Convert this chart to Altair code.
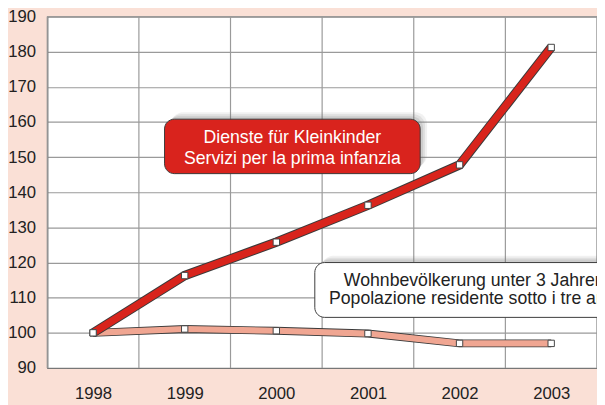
import altair as alt
import pandas as pd

# ---- data ----
years = [1998, 1999, 2000, 2001, 2002, 2003]
services = [100, 116.3, 125.8, 136.3, 147.8, 181.2]      # Dienste für Kleinkinder
population = [100, 101.1, 100.6, 99.8, 97.0, 97.0]      # Wohnbevölkerung unter 3 Jahren
y_ticks = [90, 100, 110, 120, 130, 140, 150, 160, 170, 180, 190]
label_services = ["Dienste für Kleinkinder", "Servizi per la prima infanzia"]
label_population = ["Wohnbevölkerung unter 3 Jahren", "Popolazione residente sotto i tre anni"]

band_edges = [y - 0.5 for y in years] + [years[-1] + 0.5]

df = pd.DataFrame({
    "year": years * 2,
    "value": services + population,
    "series": ["services"] * len(years) + ["population"] * len(years),
})
df_serv = df[df.series == "services"]
df_pop = df[df.series == "population"]
df_edges = pd.DataFrame({"edge": band_edges})

FONT = "Liberation Sans"
x_scale = alt.Scale(domain=[band_edges[0], band_edges[-1]], nice=False, zero=False)
y_scale = alt.Scale(domain=[y_ticks[0], y_ticks[-1]], nice=False, zero=False)

x_axis = alt.Axis(values=years, format="d", grid=False, ticks=False, labelPadding=18,
                  labelFontSize=17, labelColor="#222222", labelFont=FONT,
                  domainColor="#777777", domainWidth=1.2, title=None)
y_axis = alt.Axis(values=y_ticks, grid=True, gridColor="#9a9a9a", gridWidth=1.2,
                  ticks=False, labelPadding=12, labelFontSize=17, labelColor="#222222",
                  labelFont=FONT, labelOverlap=False, labelFlush=False,
                  domainColor="#777777", domainWidth=1.2, title=None)

base_x = alt.X("year:Q", scale=x_scale, axis=x_axis)
base_y = alt.Y("value:Q", scale=y_scale, axis=y_axis)

vgrid = alt.Chart(df_edges).mark_rule(color="#9a9a9a", strokeWidth=1.2).encode(
    x=alt.X("edge:Q", scale=x_scale, axis=x_axis)
)

def band_line(data, color, outer, inner):
    o = alt.Chart(data).mark_line(color="#3a3a3a", strokeWidth=outer, strokeCap="butt",
                                  strokeJoin="miter").encode(x=base_x, y=base_y)
    i = alt.Chart(data).mark_line(color=color, strokeWidth=inner, strokeCap="butt",
                                  strokeJoin="miter").encode(x=base_x, y=base_y)
    return o + i

pop_line = band_line(df_pop, "#f0a692", 8.0, 6.3)
serv_line = band_line(df_serv, "#d8241c", 9.5, 7.5)

points = alt.Chart(df).mark_point(shape="square", filled=True, fill="white",
                                  stroke="#444444", strokeWidth=1, size=42, opacity=1).encode(
    x=base_x, y=base_y
)

def XD(v):
    return alt.XDatum(v, scale=x_scale, axis=x_axis)

def YD(v):
    return alt.YDatum(v, scale=y_scale, axis=y_axis)

def shadow(x1, x2, y1, y2, clip=False):
    layers = []
    for off, op in [(7, 0.10), (5, 0.14), (3, 0.18)]:
        layers.append(alt.Chart().mark_rect(color="#7a7a7a", opacity=op, cornerRadius=12,
                                            clip=clip, xOffset=off, yOffset=-off,
                                            x2Offset=off, y2Offset=-off).encode(
            x=XD(x1), x2=alt.X2Datum(x2), y=YD(y1), y2=alt.Y2Datum(y2)))
    return alt.layer(*layers)

# annotation boxes (positioned in data coordinates)
red_shadow = shadow(1998.78, 2001.57, 160.8, 145.3)
red_box = alt.Chart().mark_rect(color="#d9231d", stroke="#3a3a3a", strokeWidth=1,
                                cornerRadius=10).encode(
    x=XD(1998.78), x2=alt.X2Datum(2001.57), y=YD(160.8), y2=alt.Y2Datum(145.3)
)
red_text1 = alt.Chart().mark_text(text=label_services[0], color="white", font=FONT, fontSize=18,
                                  align="center", baseline="middle").encode(
    x=XD(2000.175), y=YD(155.4)
)
red_text2 = alt.Chart().mark_text(text=label_services[1], color="white", font=FONT, fontSize=18,
                                  align="center", baseline="middle").encode(
    x=XD(2000.175), y=YD(149.3)
)

white_shadow = shadow(2000.42, 2003.85, 120.0, 104.4, clip=True)
white_box = alt.Chart().mark_rect(color="white", stroke="#3a3a3a", strokeWidth=1,
                                  cornerRadius=10, clip=True).encode(
    x=XD(2000.42), x2=alt.X2Datum(2003.85), y=YD(120.0), y2=alt.Y2Datum(104.4)
)
white_text1 = alt.Chart().mark_text(text=label_population[0], color="#222222", font=FONT,
                                    fontSize=18, align="center", baseline="middle",
                                    clip=True).encode(
    x=XD(2002.16), y=YD(114.8)
)
white_text2 = alt.Chart().mark_text(text=label_population[1], color="#222222", font=FONT,
                                    fontSize=18, align="center", baseline="middle",
                                    clip=True).encode(
    x=XD(2002.16), y=YD(109.7)
)

chart = alt.layer(
    vgrid, pop_line, serv_line, points,
    red_shadow, red_box, red_text1, red_text2,
    white_shadow, white_box, white_text1, white_text2,
).properties(
    width=560, height=358,
    autosize=alt.AutoSizeParams(type="none"),
    padding={"left": 40, "top": 5, "right": 0, "bottom": 34},
    background="#fae0d6",
).configure_view(
    fill="white", stroke="#808080", strokeWidth=1.2
).configure_axis(
    labelOverlap=False
)

chart.save("out.html", embed_options={"renderer": "svg", "actions": False})
